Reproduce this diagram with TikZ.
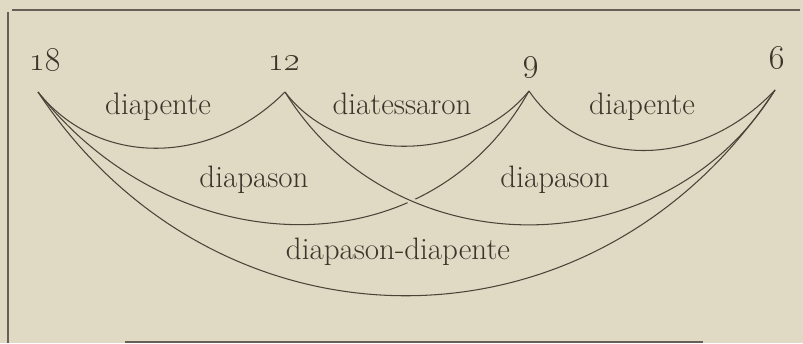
\documentclass[tikz,border=0pt]{standalone}
\usepackage{fix-cm}
\definecolor{bg}{HTML}{E0D9C3}
\definecolor{ink}{HTML}{4A4338}
\definecolor{textink}{HTML}{3C352B}
\tikzset{
  arcline/.style={draw=ink, line width=1.05pt},
  halo/.style={draw=bg, line width=6pt},
  frameline/.style={draw=ink!85, line width=1.3pt},
  lbl/.style={text=textink, inner sep=0pt, anchor=base, font=\fontsize{31}{36}\selectfont},
  num/.style={text=textink, inner sep=0pt, anchor=base, font=\fontsize{33}{38}\selectfont}
}
\begin{document}
\begin{tikzpicture}[x=1pt,y=-1pt]
\fill[bg] (0,0) rectangle (803,343);
\useasboundingbox (0,0) rectangle (803,343);
% frame
\draw[frameline] (12,10) -- (800,10);
\draw[frameline] (8,12) -- (8,343);
\draw[frameline] (125,342) -- (703,342);
% numbers
\node[num] (n18) at (45,70) {\oldstylenums{18}};
\node[num] (n12) at (284,70) {\oldstylenums{12}};
\node[num] (n9)  at (531,71) {\oldstylenums{9}};
\node[num] (n6)  at (777,68) {\oldstylenums{6}};
\coordinate (p18) at (38,92);
\coordinate (p12) at (285,92);
\coordinate (p9)  at (529,91);
\coordinate (p6)  at (775,90);
% labels
\node[lbl] (l1) at (158,114) {diapente};
\node[lbl] (l2) at (402,114) {diatessaron};
\node[lbl] (l3) at (642,114) {diapente};
\node[lbl] (l4) at (254,187) {diapason};
\node[lbl] (l5) at (555,187) {diapason};
\node[lbl] (l6) at (398,259) {diapason-diapente};
% arcs
\draw[arcline] (p18) .. controls +(60,75) and +(-75,75) .. (p12);
\draw[arcline] (p12) .. controls +(55,73) and +(-60,73) .. (p9);
\draw[arcline] (p9) .. controls +(55,80) and +(-75,80) .. (p6);
\draw[arcline] (p18) .. controls +(134,171) and +(-103,184) .. (p9);
\draw[arcline] (p18) .. controls +(180,272) and +(-180,274) .. (p6);
\begin{scope}
\clip (375,185) rectangle (425,215);
\draw[halo] (p12) .. controls +(110,178) and +(-110,179) .. (p6);
\end{scope}
\draw[arcline] (p12) .. controls +(110,178) and +(-110,179) .. (p6);
\end{tikzpicture}
\end{document}
